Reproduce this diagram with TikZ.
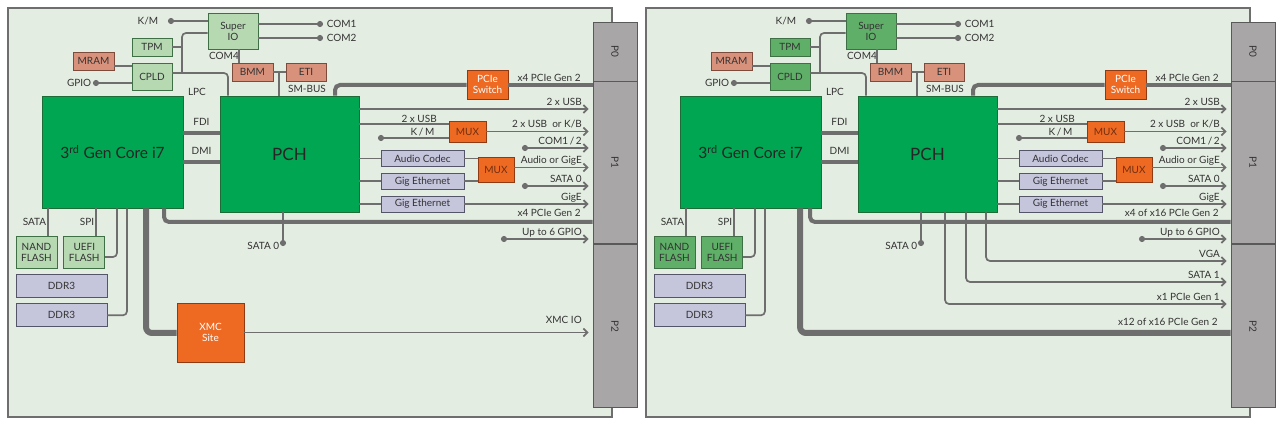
\documentclass[tikz,border=0pt]{standalone}
\usepackage{fontspec}
\setmainfont{Lato}
\usetikzlibrary{arrows.meta, positioning}

\definecolor{boardbg}{HTML}{E4EDE1}
\definecolor{wiregray}{HTML}{6F6E6E}
\definecolor{chipgreen}{HTML}{00A651}
\definecolor{chipline}{HTML}{1D6B36}
\definecolor{palegreen}{HTML}{B6D9B2}
\definecolor{midgreen}{HTML}{5FAF68}
\definecolor{greenline}{HTML}{3F6F45}
\definecolor{salmon}{HTML}{D8917B}
\definecolor{salmonline}{HTML}{7D4B3C}
\definecolor{hotorange}{HTML}{EE6A23}
\definecolor{orangeline}{HTML}{8F3A12}
\definecolor{lavender}{HTML}{C5C5DC}
\definecolor{lavline}{HTML}{55556A}
\definecolor{portgray}{HTML}{A9A6A7}
\definecolor{txt}{HTML}{333333}

% parts that both boards share
\newcommand{\boardparts}{%
		\draw[draw=wiregray, line width=1.2pt, fill=boardbg] (8,8) rectangle (612,417);
		\node[port, minimum height=59] (p0) at (615,51.5) {\rotatebox{-90}{P0}};
		\node[port, minimum height=162, below=0pt of p0] (p1) {\rotatebox{-90}{P1}};
		\node[port, minimum height=163, below=0pt of p1] (p2) {\rotatebox{-90}{P2}};
		
		\node[chip, sz={141}{112}] (cpu) at (112.5,152) {3\textsuperscript{rd} Gen Core i7};
		\node[chip, sz={139}{116}, font=\fontsize{17}{17}\selectfont] (pch) at (289.5,154) {PCH};
		\node[small, sz={50}{36}] (sio) at (233,31) {Super\\IO};
		\node[small, sz={40}{18}] (tpm) at (152,47) {TPM};
		\node[small, sz={40}{27}] (cpld) at (152,76.5) {CPLD};
		\node[salm, sz={41}{18}] (mram) at (93.5,61) {MRAM};
		\node[salm, sz={41}{18}] (bmm) at (252.5,72) {BMM};
		\node[salm, sz={40}{18}] (eti) at (306,72) {ETI};
		\node[hot, sz={41}{29}, text=white] (psw) at (487.5,84.5) {PCIe\\Switch};
		\node[hot, sz={37}{21}] (mux1) at (467.5,131.5) {MUX};
		\node[hot, sz={36}{25}] (mux2) at (496,169.5) {MUX};
		\node[ic, sz={83}{16}] (ac) at (422.5,158.5) {Audio Codec};
		\node[ic, sz={83}{16}, below=6pt of ac] (ge1) {Gig Ethernet};
		\node[ic, sz={83}{16}, below=6pt of ge1] (ge2) {Gig Ethernet};
		\node[small, sz={41}{32}] (nand) at (36.5,252) {NAND\\FLASH};
		\node[small, sz={41}{32}, right=6pt of nand] (uefi) {UEFI\\FLASH};
		\node[ic, sz={91}{23}] (ddr1) at (61.5,285.5) {DDR3};
		\node[ic, sz={91}{23}, below=6pt of ddr1] (ddr2) {DDR3};
		
		\node[lbl] (com4) at (224,56) {COM4};
		\node[lbl] (lpc) at (197,92) {LPC};
		\node[lbl] (smbus) at (307,89) {SM-BUS};
		
		\coordinate (km) at (168,21);
		\coordinate (com1) at (323,24);
		\coordinate (com2) at (323,38);
		\coordinate (gpio) at (93,83);
		\coordinate (kmb) at (378,138);
		\coordinate (com12) at (522,148);
		\coordinate (sata0b) at (522,186);
		\coordinate (gpio6) at (501,239);
		\coordinate (sata0) at (283,246);
		
		% small busses round the super io
		\draw[wire, {Circle[length=6pt]}-] (km) node[lbl, left=8pt] {K/M} -- (sio.west |- km);
		\draw[wire, -{Circle[length=6pt]}] (sio.east |- com1) -- (com1) node[lbl, right=2pt] {COM1};
		\draw[wire, -{Circle[length=6pt]}] (sio.east |- com2) -- (com2) node[lbl, right=2pt] {COM2};
		\draw[wire, {Circle[length=6pt]}-] (gpio) node[lbl, left] {GPIO} -- (cpld.west |- gpio);
		\draw[wire, rounded corners=4pt] (sio.west |- 0,33) -- (182,33) -- (182,73);
		\draw[wire, rounded corners=4pt] (cpld.east |- 0,73) -- (228,73) -- (pch.north -| 228,0);
		\path[wire] (tpm.east) edge (tpm.east -| 182,0)
		(mram.east |- 0,66) edge (cpld.west |- 0,66)
		(sio.south -| 239,0) edge (bmm.north -| 239,0)
		(bmm) edge (eti)
		(279,72) edge (pch.north -| 279,0);
		
		% cpu and pch
		\draw[bus, rounded corners=5pt] (pch.north -| 335,0) -- (335,85) -- (psw.west |- 0,85);
		\draw[bus] (psw.east |- 0,85) -- (p1.west |- 0,85) node[tag, yshift=-0.5pt] {x4 PCIe Gen 2};
		\draw[bus] (cpu.east |- 0,133) -- node[lbl, above=4pt] {FDI} (pch.west |- 0,133);
		\draw[bus] (cpu.east |- 0,162) -- node[lbl, above=4pt] {DMI} (pch.west |- 0,162);
		
		% pch to p1
		\draw[sig] (pch.east |- 0,109) -- (p1.west |- 0,109) node[tag] {2 x USB};
		\draw[wire] (pch.east |- 0,124) -- node[lbl, above, pos=.67] {2 x USB} (mux1.west |- 0,124);
		\draw[wire, {Circle[length=6pt]}-] (kmb) -- node[lbl, above, pos=.63] {K\,/\,M} (mux1.west |- kmb);
		\draw[sig] (mux1.east) -- (p1.west |- mux1.east) node[tag] {2 x USB\ \ or K/B};
		\draw[bsig] (com12) -- (p1.west |- com12) node[tag] {COM1\,/\,2};
		\path[wire] (pch.east |- ac.west) edge (ac)
		(ac.east) edge (mux2.west |- ac.east)
		(pch.east |- ge1.west) edge (ge1)
		(ge1.east) edge (mux2.west |- ge1.east)
		(pch.east |- ge2.west) edge (ge2);
		\draw[sig] (mux2.east |- 0,167.5) -- (p1.west |- 0,167.5) node[tag] {Audio or GigE};
		\draw[bsig] (sata0b) -- (p1.west |- sata0b) node[tag] {SATA 0};
		\draw[sig] (ge2.east) -- (p1.west |- ge2.east) node[tag] {GigE};
		\draw[bsig] (gpio6) -- (p1.west |- gpio6) node[tag] {Up to 6 GPIO};
		\draw[wire, -{Circle[length=6pt]}] (pch.south -| 283,0) -- (sata0) node[lbl, left=2pt] {SATA 0};
		
		% below the cpu
		\draw[wire] (cpu.south -| 48,0) -- node[lbl, left] {SATA} (nand.north -| 48,0);
		\draw[wire] (cpu.south -| 96,0) -- node[lbl, left] {SPI} (uefi.north -| 96,0);
		\draw[wire, rounded corners=4pt] (uefi.east |- 0,257) -- (117,257) -- (cpu.south -| 117,0);
		\draw[wire, rounded corners=4pt] (ddr2.east) -- (ddr2.east -| 127,0) -- (cpu.south -| 127,0);
}

\begin{document}
\begin{tikzpicture}[x=1pt, y=-1pt,
		box/.style={draw, line width=0.8pt, inner sep=0pt, align=center, text=txt, font=\fontsize{10}{11}\selectfont},
		sz/.style 2 args={minimum width=#1, minimum height=#2},
		chip/.style={box, fill=chipgreen, draw=chipline, text=black!85, font=\fontsize{15.5}{15.5}\selectfont},
		small/.style={box, fill=palegreen, draw=greenline},
		salm/.style={box, fill=salmon, draw=salmonline},
		hot/.style={box, fill=hotorange, draw=orangeline, text=orangeline!80!black},
		ic/.style={box, fill=lavender, draw=lavline},
		port/.style={box, fill=portgray, draw=black!65, minimum width=44},
		lbl/.style={text=txt, inner sep=1pt, font=\fontsize{10}{11}\selectfont},
		tag/.style={lbl, anchor=base east, xshift=-9pt, yshift=3.5pt},
		wire/.style={draw=wiregray, line width=1.7pt},
		bus/.style={draw=wiregray, line width=4pt},
		fat/.style={draw=wiregray, line width=6pt},
		sig/.style={wire, -{Straight Barb[length=4pt, width=8pt]}, shorten >=4pt},
		bsig/.style={wire, {Circle[length=6pt]}-{Straight Barb[length=4pt, width=8pt]}, shorten >=4pt}]
		\useasboundingbox[fill=white] (0,0) rectangle (1283,430);
		
		% board with xmc site
		\begin{scope}[name prefix=L-]
		\boardparts
		\node[hot, sz={67}{59}, text=white] (xmc) at (210.5,332.5) {XMC\\Site};
		\draw[fat, rounded corners=6pt] (cpu.south -| 146,0) -- (146,333) -- (xmc.west |- 0,333);
		\draw[sig] (xmc.east) -- (p2.west |- xmc.east) node[tag, yshift=5pt] {XMC IO};
		\draw[bus, rounded corners=5pt] (cpu.south -| 164,0) -- (164,222) -- (p1.west |- 0,222) node[tag, yshift=2pt] {x4 PCIe Gen 2};
		\end{scope}
		
		% board with x16 pcie
		\begin{scope}[xshift=638, name prefix=R-, small/.style={box, fill=midgreen, draw=greenline}]
		\boardparts
		\draw[fat, rounded corners=6pt] (cpu.south -| 162,0) -- (162,333) -- (p2.west |- 0,333) node[tag, yshift=4pt] {x12 of x16 PCIe Gen 2};
		\draw[bus, rounded corners=5pt] (cpu.south -| 172,0) -- (172,222) -- (p1.west |- 0,222) node[tag, yshift=2pt] {x4 of x16 PCIe Gen 2};
		\draw[sig, rounded corners=4pt] (pch.south -| 348,0) -- (348,261) -- (p2.west |- 0,261) node[tag] {VGA};
		\draw[sig, rounded corners=4pt] (pch.south -| 328,0) -- (328,282) -- (p2.west |- 0,282) node[tag] {SATA 1};
		\draw[sig, rounded corners=4pt] (pch.south -| 307,0) -- (307,304) -- (p2.west |- 0,304) node[tag] {x1 PCIe Gen 1};
		\end{scope}
\end{tikzpicture}
\end{document}
